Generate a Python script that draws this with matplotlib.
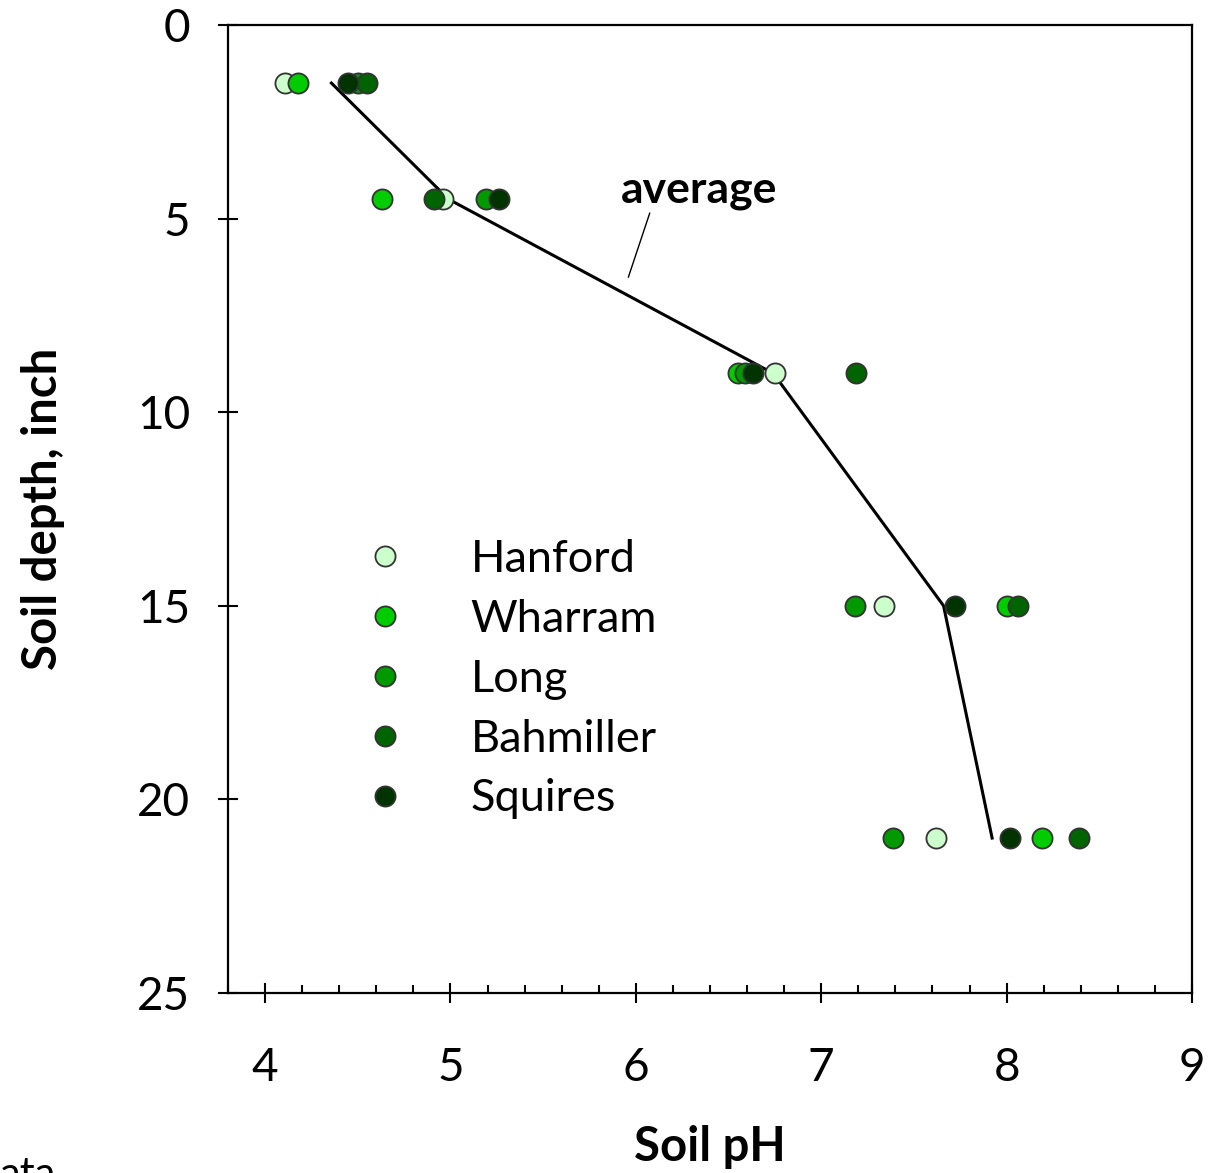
import matplotlib
matplotlib.use("Agg")
import matplotlib.pyplot as plt
import numpy as np
from matplotlib.ticker import MultipleLocator

plt.rcParams['font.family'] = ['Lato', 'DejaVu Sans']

depths = [1.5, 4.5, 9, 15, 21]
hanford = [4.11, 4.96, 6.75, 7.34, 7.62]
wharram = [4.18, 4.63, 6.55, 8.00, 8.19]
long_ = [4.50, 5.19, 6.59, 7.18, 7.39]
bahmiller = [4.55, 4.91, 7.19, 8.06, 8.39]
squires = [4.45, 5.26, 6.63, 7.72, 8.02]

series_names = ["Hanford", "Wharram", "Long", "Bahmiller", "Squires"]
series_vals = [hanford, wharram, long_, bahmiller, squires]
colors = ["#ccffcc", "#00cc00", "#009a00", "#006400", "#003300"]

xticks = [4, 5, 6, 7, 8, 9]
yticks = [0, 5, 10, 15, 20, 25]

fig = plt.figure(figsize=(12.10, 11.73), dpi=100)
ax = fig.add_axes([0.1884, 0.1535, 0.7967, 0.8252])

avg = np.mean(np.array(series_vals), axis=0)
ax.plot(avg, depths, color="black", lw=2.2, zorder=2)

for name, vals, c in zip(series_names, series_vals, colors):
    ax.plot(vals, depths, linestyle="none", marker="o", markersize=14.5,
            markerfacecolor=c, markeredgecolor="#333333", markeredgewidth=1.3,
            label=name, zorder=3)

ax.set_xlim(3.8, 9)
ax.set_ylim(25, 0)
ax.set_xticks(xticks)
ax.set_yticks(yticks)
ax.xaxis.set_minor_locator(MultipleLocator(0.2))
ax.tick_params(axis="both", which="major", direction="inout", length=14,
               width=1.5, labelsize=33, color="black")
ax.tick_params(axis="x", which="major", pad=32)
ax.tick_params(axis="y", which="major", pad=20)
ax.tick_params(axis="x", which="minor", direction="in", length=6, width=1.5)
for s in ax.spines.values():
    s.set_linewidth(1.6)

ax.set_xlabel("Soil pH", fontsize=34, fontweight="bold", labelpad=26)
ax.set_ylabel("Soil depth, inch", fontsize=34, fontweight="bold", labelpad=52)

ax.text(6.34, 4.25, "average", fontsize=32, fontweight="bold",
        ha="center", va="center")
ax.plot([6.075, 5.96], [4.86, 6.51], color="black", lw=1.0)

leg = ax.legend(loc="upper left", bbox_to_anchor=(0.1207, 0.488), frameon=False,
                fontsize=32.5, handletextpad=1.4, labelspacing=0.42,
                handlelength=1.0, borderaxespad=0)

fig.text(0.0, -0.012, "ata", fontsize=30, ha="left", va="baseline")

fig.savefig("out.png", dpi=100)
